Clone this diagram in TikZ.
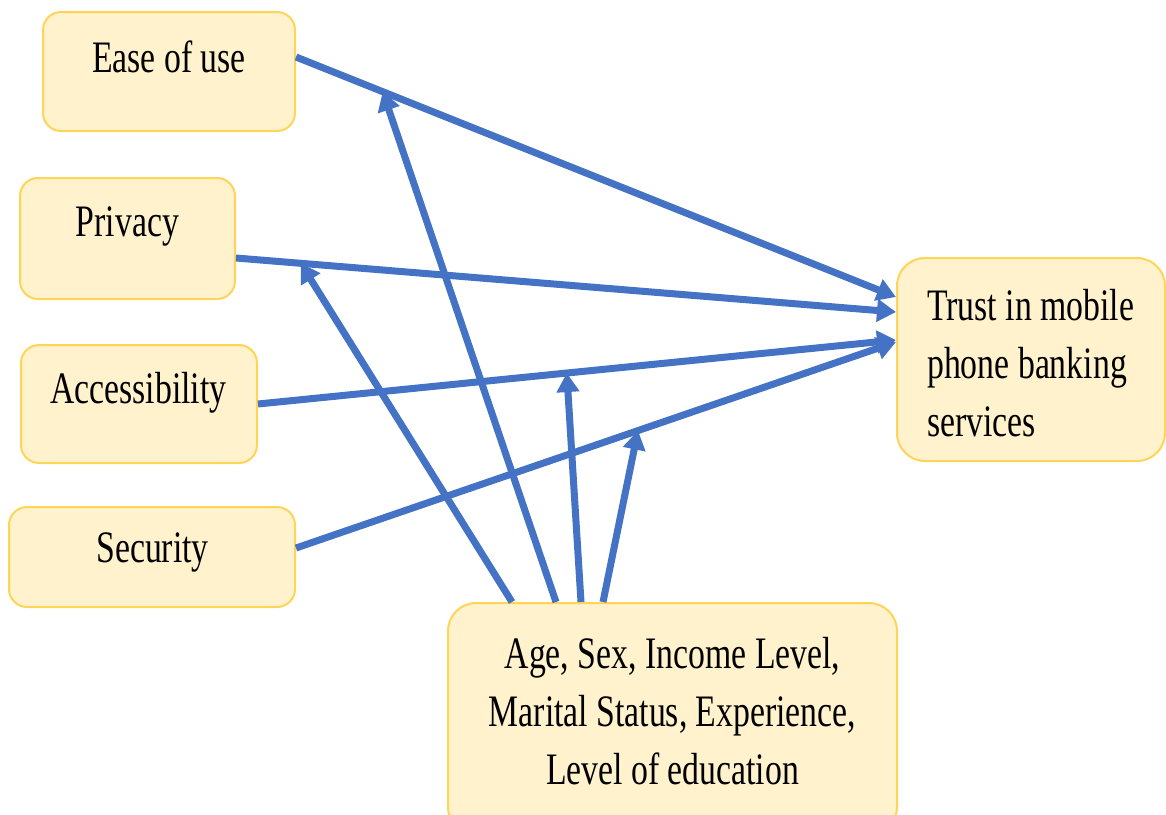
\documentclass[tikz,border=0pt]{standalone}
\usepackage{fontspec}
\setmainfont{Liberation Serif}[FakeStretch=0.75]
\usetikzlibrary{arrows.meta,calc}
\definecolor{boxfill}{HTML}{FFF2CC}
\definecolor{boxline}{HTML}{FFD557}
\definecolor{arrowblue}{HTML}{4472C4}
\begin{document}
\begin{tikzpicture}[x=1pt,y=-1pt,
  box/.style={draw=boxline, fill=boxfill, line width=2pt, rounded corners=18pt, inner sep=0pt},
  bigbox/.style={box, rounded corners=28pt},
  lbl/.style={font=\fontsize{45}{58}\selectfont, inner sep=0pt},
  link/.style={draw=arrowblue, line width=7pt, -{Triangle[width=22pt,length=19pt]}}]
\useasboundingbox (0,0) rectangle (1166,814);
% boxes
\node[box, minimum width=252pt, minimum height=119pt] (ease) at (169,71.5) {};
\node[box, minimum width=215pt, minimum height=121pt] (privacy) at (127.5,238.5) {};
\node[box, minimum width=236pt, minimum height=118pt] (access) at (139,404) {};
\node[box, minimum width=286pt, minimum height=100pt] (security) at (152,557) {};
\node[bigbox, minimum width=268pt, minimum height=203pt] (trust) at (1031,359.5) {};
\node[bigbox, minimum width=449pt, minimum height=232pt] (age) at (672.5,719) {};
% texts
\node[lbl, anchor=base] (easet) at (169,72) {Ease of use};
\node[lbl, anchor=base] (privacyt) at (127.5,236) {Privacy};
\node[lbl, anchor=base] (accesst) at (138.5,403) {Accessibility};
\node[lbl, anchor=base] (securityt) at (152.5,562) {Security};
\node[lbl, anchor=north west, align=left] (trustt) at (927,289) {Trust in mobile\\phone banking\\services};
\node[lbl, anchor=north, align=center] (aget) at (672.5,637) {Age, Sex, Income Level,\\Marital Status, Experience,\\Level of education};
% main connectors
\coordinate (eS) at ([yshift=14.5pt]ease.east);
\coordinate (eT) at ([yshift=62.5pt]trust.west);
\coordinate (pS) at ([yshift=-19.5pt]privacy.east);
\coordinate (pT) at ([yshift=47.5pt]trust.west);
\coordinate (aS) at (access.east);
\coordinate (aT) at ([yshift=19.5pt]trust.west);
\coordinate (sS) at ([yshift=9pt]security.east);
\coordinate (sT) at ([yshift=17.5pt]trust.west);
\draw[link] (eS) -- (eT);
\draw[link] (pS) -- (pT);
\draw[link] (aS) -- (aT);
\draw[link] (sS) -- (sT);
% moderator target points on the main connectors
\coordinate (mE) at ($(eS)!0.1445!(eT)$);
\coordinate (mP) at ($(pS)!0.098!(pT)$);
\coordinate (mA) at ($(aS)!0.484!(aT)$);
\coordinate (mS) at ($(sS)!0.57!(sT)$);
\draw[link] ([xshift=-160.5pt]age.north) -- (mP);
\draw[link] ([xshift=-116.5pt]age.north) -- (mE);
\draw[link] ([xshift=-91.5pt]age.north) -- (mA);
\draw[link] ([xshift=-69.5pt]age.north) -- (mS);
\end{tikzpicture}
\end{document}
